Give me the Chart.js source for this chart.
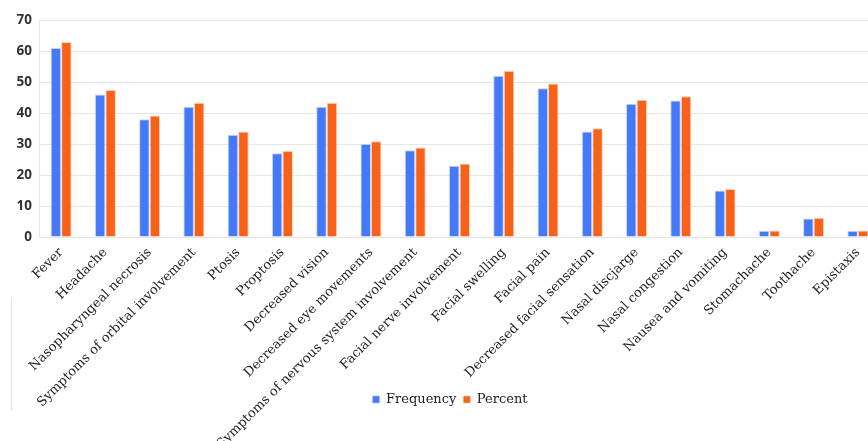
<!DOCTYPE html>
<html>
<head>
<meta charset="utf-8">
<script src="https://cdn.jsdelivr.net/npm/chart.js@4/dist/chart.umd.min.js"></script>
<style>
  html, body { margin: 0; padding: 0; background: #fff; }
  #frame { width: 868px; height: 441px; overflow: hidden; position: relative; }
  #holder { width: 900px; height: 441px; }
</style>
</head>
<body>
<div id="frame"><div id="holder"><canvas id="chart" width="900" height="441"></canvas></div></div>
<script>
// Symptoms reported, with counts and percentages
const categories = [
  "Fever", "Headache", "Nasopharyngeal necrosis", "Symptoms of orbital involvement",
  "Ptosis", "Proptosis", "Decreased vision", "Decreased eye movements",
  "Symptoms of nervous system involvement", "Facial nerve involvement", "Facial swelling",
  "Facial pain", "Decreased facial sensation", "Nasal discjarge", "Nasal congestion",
  "Nausea and vomiting", "Stomachache", "Toothache", "Epistaxis"
];
const frequency = [61, 46, 38, 42, 33, 27, 42, 30, 28, 23, 52, 48, 34, 43, 44, 15, 2, 6, 2];
const percent = [62.9, 47.4, 39.2, 43.3, 34.0, 27.8, 43.3, 30.9, 28.9, 23.7, 53.6, 49.5, 35.1, 44.3, 45.4, 15.5, 2.1, 6.2, 2.1];
const yTicks = [0, 10, 20, 30, 40, 50, 60, 70];

const BLUE = '#4479f7';
const ORANGE = '#f7621a';
const GRID = '#e2e7e7';

// Let the long rotated category labels run down past the axis box,
// and nudge the legend so it sits centred under the plot.
const layoutTweaks = {
  id: 'layoutTweaks',
  afterLayout(chart) {
    chart.scales.x.bottom = chart.height;
    const lg = chart.legend;
    if (lg) { lg.left += 10; lg.right += 10; }
  }
};

// thin rule at the lower left of the figure frame
const frameRule = {
  id: 'frameRule',
  afterDraw(chart) {
    const ctx = chart.ctx;
    ctx.save();
    ctx.strokeStyle = '#dde4e2';
    ctx.lineWidth = 1;
    ctx.beginPath();
    ctx.moveTo(11.5, 298);
    ctx.lineTo(11.5, 411);
    ctx.stroke();
    ctx.restore();
  }
};

new Chart(document.getElementById('chart'), {
  type: 'bar',
  data: {
    labels: categories,
    datasets: [
      { label: 'Frequency', data: frequency, backgroundColor: BLUE, borderColor: 'rgba(170,195,255,0.7)', borderWidth: 1, borderSkipped: 'bottom' },
      { label: 'Percent', data: percent, backgroundColor: ORANGE, borderColor: 'rgba(255,190,150,0.7)', borderWidth: 1, borderSkipped: 'bottom' }
    ]
  },
  plugins: [layoutTweaks, frameRule],
  options: {
    responsive: false,
    animation: false,
    layout: { padding: { left: 0, right: 20, top: 20, bottom: 25 } },
    datasets: { bar: { categoryPercentage: 0.475, barPercentage: 1.0 } },
    plugins: {
      tooltip: { enabled: false },
      legend: {
        position: 'bottom',
        labels: {
          boxWidth: 7,
          boxHeight: 7,
          padding: 7,
          color: '#222',
          font: { family: 'DejaVu Serif', size: 13 }
        }
      }
    },
    scales: {
      x: {
        grid: { display: false },
        border: { color: GRID, width: 1 },
        ticks: {
          minRotation: 45,
          maxRotation: 45,
          autoSkip: false,
          padding: 0,
          color: '#1e1e1e',
          font: { family: 'DejaVu Serif', size: 13 }
        },
        afterFit(scale) { scale.height = 149; }
      },
      y: {
        min: 0,
        max: 70,
        afterBuildTicks(scale) { scale.ticks = yTicks.map(v => ({ value: v })); },
        grid: { color: GRID, lineWidth: 1, drawTicks: false },
        border: { color: GRID, width: 1 },
        ticks: {
          padding: 7,
          color: '#333',
          font: { family: 'Open Sans', size: 13.5, weight: 'bold' }
        },
        afterFit(scale) { scale.width = 39; }
      }
    }
  }
});
</script>
</body>
</html>
